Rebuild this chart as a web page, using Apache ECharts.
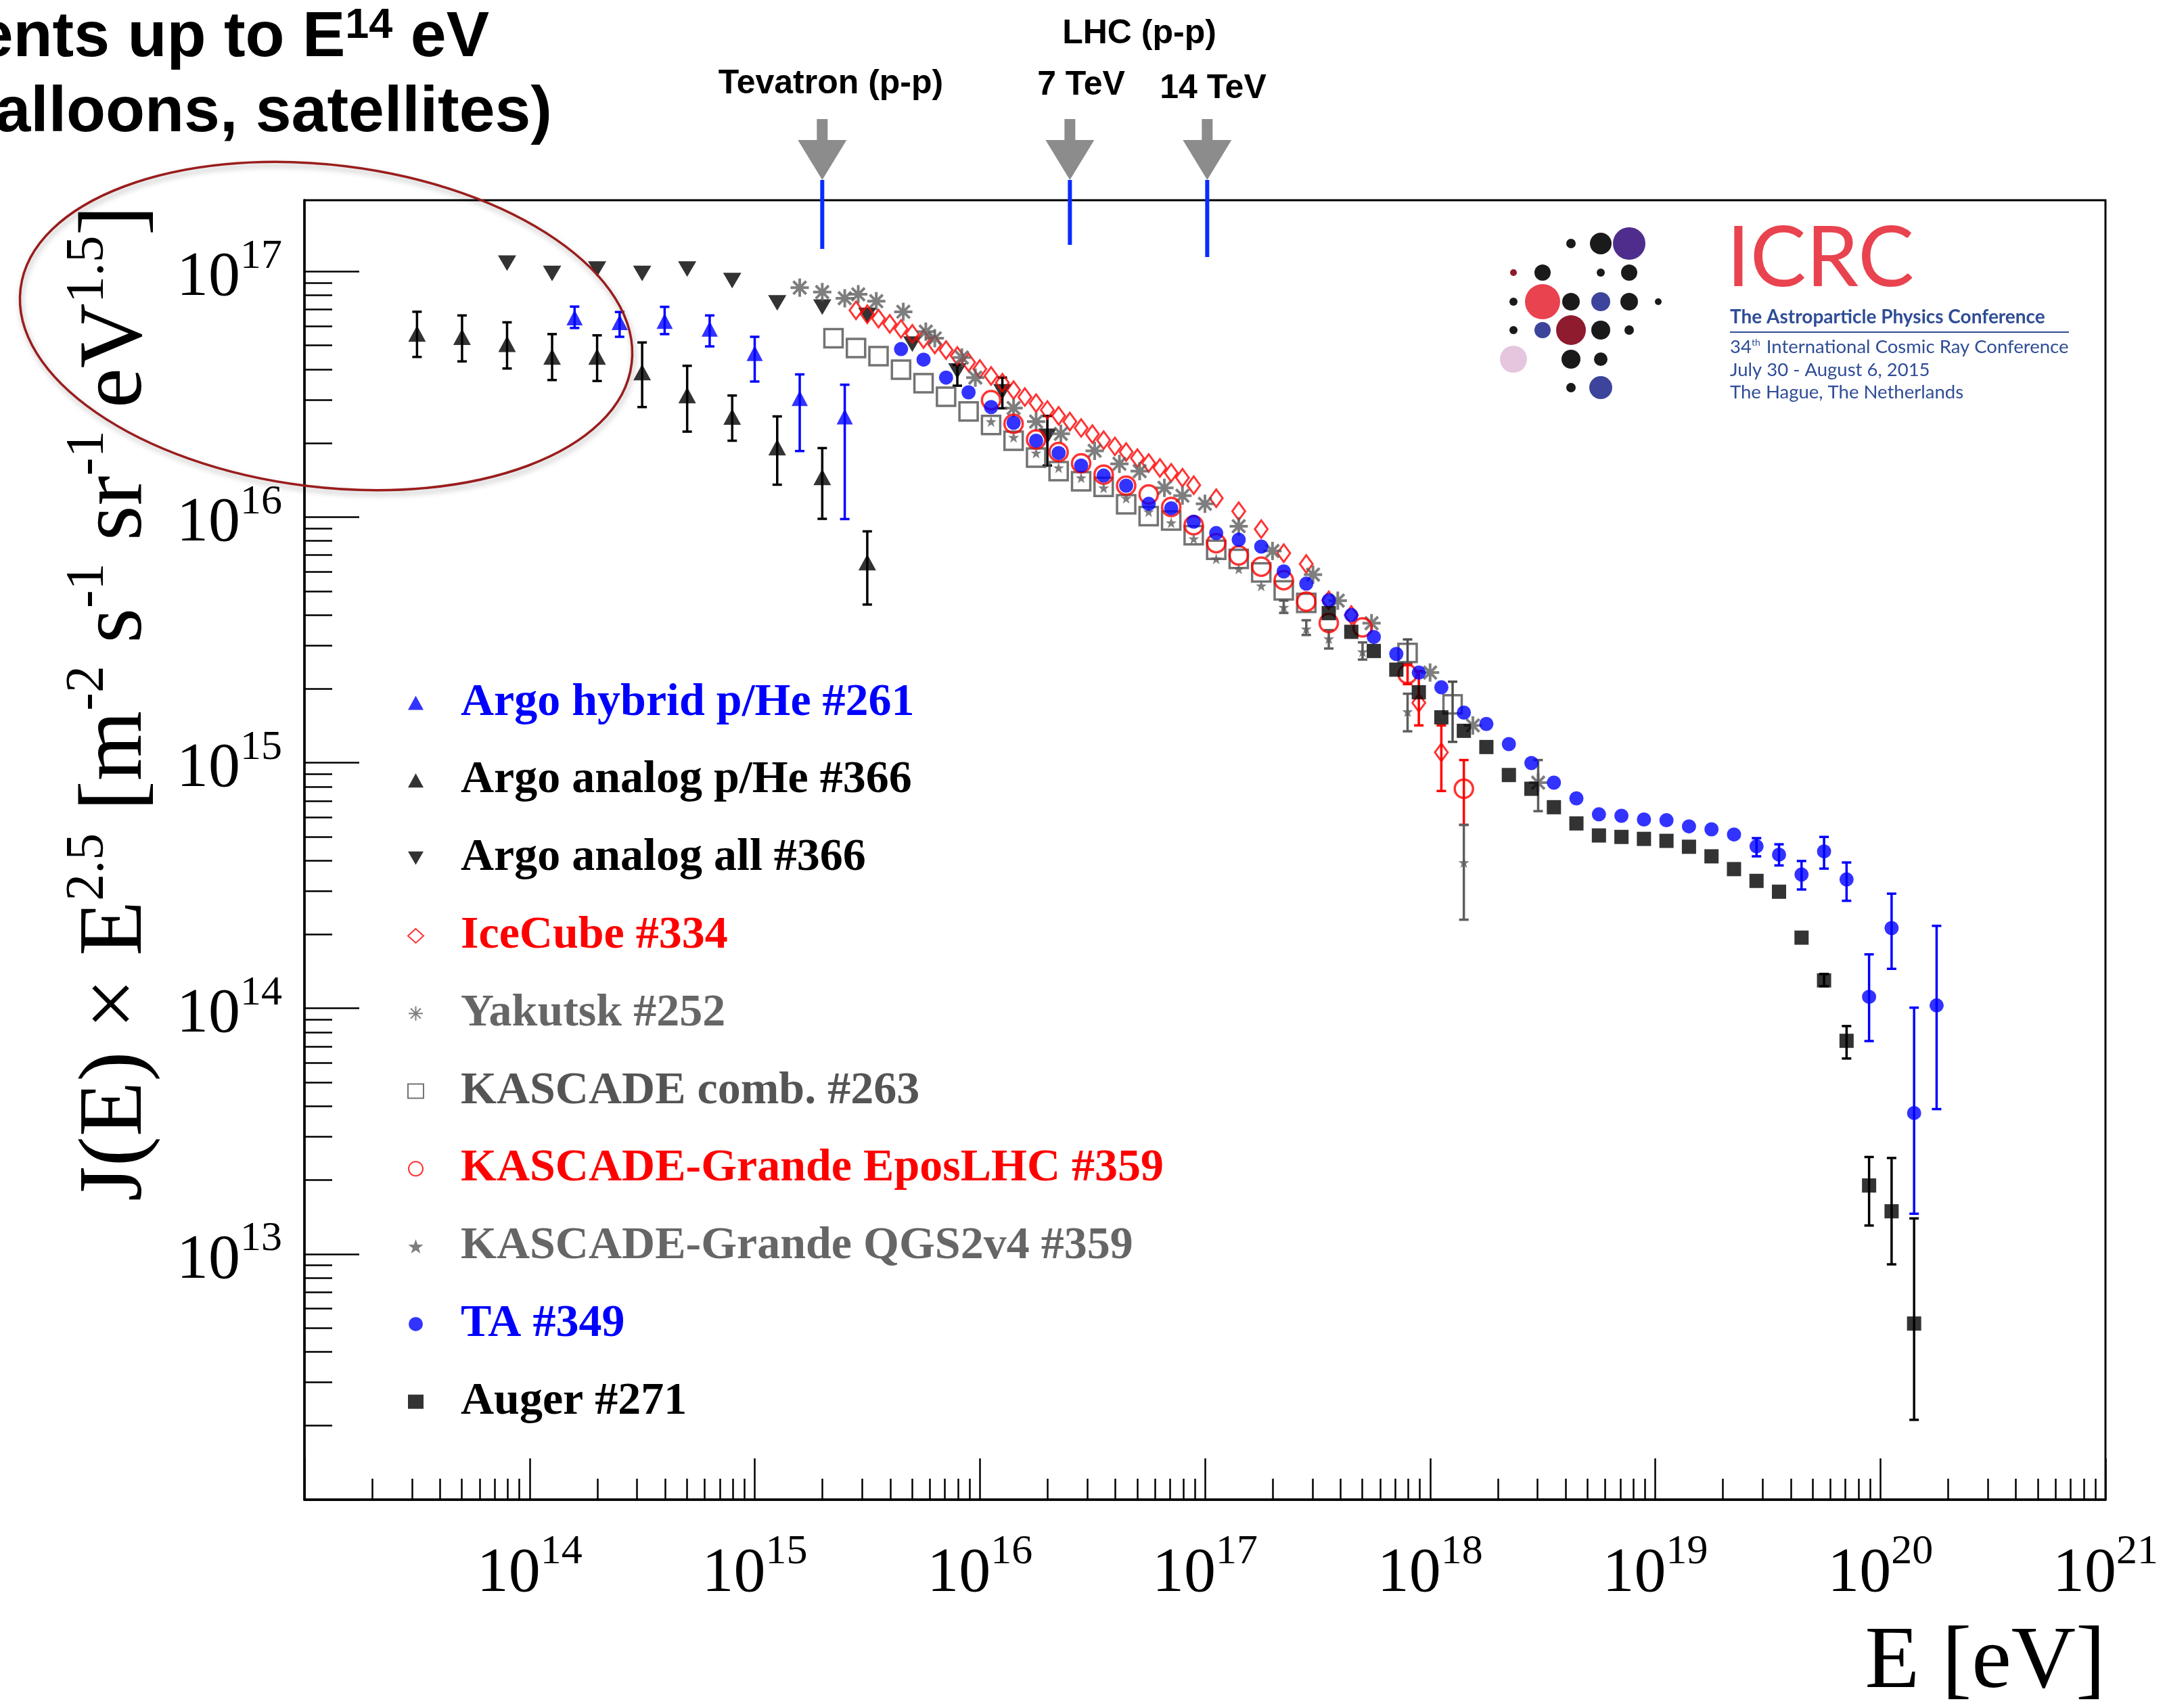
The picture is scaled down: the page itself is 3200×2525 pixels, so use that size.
<!DOCTYPE html>
<html><head><meta charset="utf-8">
<script src="https://cdn.jsdelivr.net/npm/echarts@6/dist/echarts.min.js"></script>
<style>html,body{margin:0;padding:0;background:#fff}#c{width:3200px;height:2525px}</style>
</head><body><div id="c"></div>
<script>
// All values are log10 of the quantity:
// x = log10(E / eV), y = log10(J(E) x E^2.5 [m^-2 s^-1 sr^-1 eV^1.5])

// Argo hybrid p/He #261
const argoHybridLogE = [14.2, 14.4, 14.6, 14.8, 15.0, 15.2, 15.4];
const argoHybridLogJ = [16.812, 16.793, 16.798, 16.766, 16.667, 16.484, 16.409];
const argoHybridLo   = [16.770, 16.734, 16.745, 16.695, 16.552, 16.269, 15.992];
const argoHybridHi   = [16.857, 16.835, 16.856, 16.821, 16.734, 16.581, 16.539];

// Argo analog p/He #366
const argoPHeLogE = [13.5, 13.7, 13.9, 14.1, 14.3, 14.5, 14.7, 14.9, 15.1, 15.3, 15.5];
const argoPHeLogJ = [16.747, 16.734, 16.705, 16.653, 16.653, 16.590, 16.496, 16.409, 16.284, 16.163, 15.816];
const argoPHeLo   = [16.652, 16.634, 16.605, 16.558, 16.554, 16.448, 16.348, 16.311, 16.132, 15.993, 15.644];
const argoPHeHi   = [16.836, 16.821, 16.793, 16.745, 16.740, 16.711, 16.616, 16.495, 16.410, 16.281, 15.942];

// Argo analog all #366
const argoAllLogE = [13.9, 14.1, 14.3, 14.5, 14.7, 14.9, 15.1, 15.3, 15.5, 15.7, 15.9, 16.1, 16.3];
const argoAllLogJ = [17.034, 16.992, 17.010, 16.992, 17.010, 16.963, 16.872, 16.855, 16.821, 16.704, 16.595, 16.510, 16.329];
const argoAllErrLogE = [15.9, 16.1, 16.3];
const argoAllErrLo   = [16.535, 16.443, 16.210];
const argoAllErrHi   = [16.620, 16.568, 16.412];

// IceCube #334
const iceCubeLogE = [15.45, 15.50, 15.55, 15.60, 15.65, 15.70, 15.75, 15.80, 15.85, 15.90, 15.95, 16.00, 16.05, 16.10,
  16.15, 16.20, 16.25, 16.30, 16.35, 16.40, 16.45, 16.50, 16.55, 16.60, 16.65, 16.70, 16.75, 16.80, 16.85, 16.90, 16.95,
  17.05, 17.15, 17.25, 17.35, 17.45, 17.55, 17.65, 17.95, 18.05];
const iceCubeLogJ = [16.842, 16.826, 16.808, 16.787, 16.766, 16.746, 16.725, 16.703, 16.680, 16.656, 16.630, 16.603, 16.575, 16.547,
  16.517, 16.489, 16.464, 16.436, 16.412, 16.389, 16.363, 16.338, 16.313, 16.288, 16.265, 16.240, 16.220, 16.200, 16.180, 16.160, 16.130,
  16.077, 16.024, 15.951, 15.853, 15.809, 15.661, 15.601, 15.244, 15.042];
const iceCubeErrLogE = [17.95, 18.05];
const iceCubeErrLo   = [15.152, 14.885];
const iceCubeErrHi   = [15.373, 15.152];

// Yakutsk #252
const yakutskLogE = [15.20, 15.30, 15.40, 15.46, 15.54, 15.66, 15.76, 15.80, 15.92, 15.98, 16.15, 16.25, 16.36, 16.51,
  16.62, 16.71, 16.82, 16.90, 17.00, 17.15, 17.30, 17.48, 17.59, 17.74, 18.00, 18.19, 18.48];
const yakutskLogJ = [16.934, 16.916, 16.891, 16.907, 16.879, 16.836, 16.755, 16.728, 16.650, 16.568, 16.444, 16.389, 16.339, 16.270,
  16.217, 16.187, 16.119, 16.087, 16.054, 15.963, 15.862, 15.766, 15.660, 15.568, 15.367, 15.152, 14.919];
const yakutskErrLogE = [18.48];
const yakutskErrLo   = [14.803];
const yakutskErrHi   = [15.011];

// KASCADE comb. #263
const kascadeLogE = [15.35, 15.45, 15.55, 15.65, 15.75, 15.85, 15.95, 16.05, 16.15, 16.25, 16.35, 16.45, 16.55, 16.65,
  16.75, 16.85, 16.95, 17.05, 17.15, 17.25, 17.35, 17.45, 17.90, 18.10];
const kascadeLogJ = [16.728, 16.688, 16.655, 16.600, 16.545, 16.490, 16.430, 16.375, 16.311, 16.242, 16.187, 16.146, 16.123, 16.052,
  16.004, 15.986, 15.926, 15.867, 15.830, 15.775, 15.702, 15.651, 15.447, 15.238];
const kascadeErrLogE = [17.90, 18.10];
const kascadeErrLo   = [15.404, 15.085];
const kascadeErrHi   = [15.502, 15.330];

// KASCADE-Grande EposLHC #359
const eposLogE = [16.05, 16.15, 16.25, 16.35, 16.45, 16.55, 16.65, 16.75, 16.85, 16.95, 17.05, 17.15, 17.25, 17.35,
  17.45, 17.55, 17.70, 17.90, 18.15];
const eposLogJ = [16.476, 16.380, 16.316, 16.265, 16.219, 16.173, 16.128, 16.092, 16.041, 15.967, 15.894, 15.844, 15.798, 15.743,
  15.656, 15.569, 15.551, 15.361, 14.894];
const eposErrLogE = [17.90, 18.15];
const eposErrLo   = [15.320, 14.747];
const eposErrHi   = [15.400, 15.011];

// KASCADE-Grande QGS2v4 #359
const qgsLogE = [16.05, 16.15, 16.25, 16.35, 16.45, 16.55, 16.65, 16.75, 16.85, 16.95, 17.05, 17.15, 17.25, 17.35,
  17.45, 17.55, 17.70, 17.90, 18.15];
const qgsLogJ = [16.389, 16.325, 16.261, 16.201, 16.160, 16.119, 16.077, 16.022, 15.977, 15.912, 15.830, 15.789, 15.720, 15.633,
  15.545, 15.505, 15.452, 15.208, 14.594];
const qgsErrLogE = [17.35, 17.45, 17.55, 17.70, 17.90, 18.15];
const qgsErrLo   = [15.610, 15.520, 15.465, 15.420, 15.128, 14.361];
const qgsErrHi   = [15.660, 15.580, 15.540, 15.490, 15.281, 14.747];

// TA #349
const taLogE = [15.65, 15.75, 15.85, 15.95, 16.05, 16.15, 16.25, 16.35, 16.45, 16.55, 16.65, 16.75, 16.85, 16.95,
  17.05, 17.15, 17.25, 17.35, 17.45, 17.55, 17.65, 17.75, 17.85, 17.95, 18.05, 18.15, 18.25, 18.35, 18.45, 18.55,
  18.65, 18.75, 18.85, 18.95, 19.05, 19.15, 19.25, 19.35, 19.45, 19.55, 19.65, 19.75, 19.85, 19.95, 20.05, 20.15, 20.25];
const taLogJ = [16.684, 16.641, 16.568, 16.508, 16.448, 16.384, 16.311, 16.261, 16.210, 16.169, 16.128, 16.054, 16.036, 15.981,
  15.935, 15.908, 15.880, 15.779, 15.729, 15.661, 15.601, 15.512, 15.443, 15.367, 15.307, 15.204, 15.158, 15.076, 14.999, 14.919,
  14.855, 14.790, 14.784, 14.769, 14.766, 14.741, 14.729, 14.708, 14.660, 14.626, 14.545, 14.639, 14.525, 14.047, 14.327, 13.574, 14.012];
const taErrLogE = [19.45, 19.55, 19.65, 19.75, 19.85, 19.95, 20.05, 20.15, 20.25];
const taErrLo   = [14.619, 14.582, 14.484, 14.569, 14.438, 13.867, 14.161, 13.164, 13.590];
const taErrHi   = [14.693, 14.668, 14.600, 14.698, 14.594, 14.220, 14.467, 14.003, 14.336];

// Auger #271
const augerLogE = [17.55, 17.65, 17.75, 17.85, 17.95, 18.05, 18.15, 18.25, 18.35, 18.45, 18.55, 18.65, 18.75, 18.85,
  18.95, 19.05, 19.15, 19.25, 19.35, 19.45, 19.55, 19.65, 19.75, 19.85, 19.95, 20.05, 20.15];
const augerLogJ = [15.609, 15.533, 15.455, 15.379, 15.287, 15.185, 15.130, 15.064, 14.950, 14.894, 14.819, 14.753, 14.704, 14.698,
  14.690, 14.682, 14.658, 14.619, 14.567, 14.519, 14.475, 14.288, 14.114, 13.868, 13.279, 13.174, 12.717];
const augerErrLogE = [19.75, 19.85, 19.95, 20.05, 20.15];
const augerErrLo   = [14.090, 13.796, 13.116, 12.958, 12.325];
const augerErrHi   = [14.140, 13.928, 13.395, 13.391, 13.145];

// Legend names
const seriesNames = ['Argo hybrid p/He #261', 'Argo analog p/He #366', 'Argo analog all #366', 'IceCube #334',
  'Yakutsk #252', 'KASCADE comb. #263', 'KASCADE-Grande EposLHC #359', 'KASCADE-Grande QGS2v4 #359', 'TA #349', 'Auger #271'];

// Tick labels (exponents of 10)
const xLabelExp = [14, 15, 16, 17, 18, 19, 20, 21];
const yLabelExp = [13, 14, 15, 16, 17];

// Accelerator equivalent energies (log10 E/eV)
const colliderLogE = [15.30, 16.40, 17.01];

const P = v => Math.pow(10, v);
const pts = (le, lj) => le.map((e, i) => [P(e), P(lj[i])]);
const errs = (le, lo, hi) => le.map((e, i) => [P(e), P(lo[i]), P(hi[i])]);

const xMajor = [], xMinor = [], yMajor = [], yMinor = [];
for (let n = 13; n <= 21; n++) { xMajor.push(n === 21 ? P(n) * 0.99999 : P(n)); if (n < 21) for (let k = 2; k <= 9; k++) xMinor.push(k * P(n)); }
for (let n = 12; n <= 17; n++) { yMajor.push(P(n)); for (let k = 2; k <= 9; k++) if (k * P(n) < 1.95e17) yMinor.push(k * P(n)); }
const xLabelVals = xLabelExp.map(e => e === 21 ? P(e) * 0.99999 : P(e));

const BLUE = '#0000ff', RED = '#ff0000', BLACK = '#000000', GRAY = '#5e5e5e', DGRAY = '#505050';
const CLEAR = 'rgba(0,0,0,0)';
const ASTER = 'path://M10,0L10,20M0,10L20,10M2.93,2.93L17.07,17.07M2.93,17.07L17.07,2.93';
const STAR = 'path://M10,0L12.35,6.76L19.51,6.91L13.8,11.24L15.88,18.09L10,14L4.12,18.09L6.2,11.24L0.49,6.91L7.65,6.76Z';
const DOWN_TRI = 'path://M0,0L20,0L10,17Z';

function errSeries(data, color, cap) {
  return {
    type: 'custom', data: data, encode: { x: 0, y: [1, 2] }, silent: true, z: 2,
    renderItem: function (params, api) {
      const x = api.value(0), lo = api.value(1), hi = api.value(2);
      const a = api.coord([x, lo]), b = api.coord([x, hi]);
      const h = cap / 2;
      const st = { stroke: color, lineWidth: 3.5 };
      return { type: 'group', children: [
        { type: 'line', shape: { x1: a[0], y1: a[1], x2: b[0], y2: b[1] }, style: st },
        { type: 'line', shape: { x1: a[0] - h, y1: a[1], x2: a[0] + h, y2: a[1] }, style: st },
        { type: 'line', shape: { x1: b[0] - h, y1: b[1], x2: b[0] + h, y2: b[1] }, style: st }
      ] };
    }
  };
}
function sc(name, data, symbol, size, itemStyle, extra) {
  return Object.assign({ type: 'scatter', name: name, data: data, symbol: symbol, symbolSize: size,
    itemStyle: itemStyle, z: 2, emphasis: { disabled: true } }, extra || {});
}

const supRich = {
  b: { fontFamily: 'Liberation Serif', fontSize: 94, color: '#000', padding: [20, 0, 0, 0] },
  s: { fontFamily: 'Liberation Serif', fontSize: 62, color: '#000', padding: [0, 0, 44, 0] }
};
const supFmt = v => '{b|10}{s|' + Math.round(Math.log10(v)) + '}';

const legendColors = [BLUE, BLACK, BLACK, RED, '#666666', '#555555', RED, '#666666', BLUE, BLACK];

const option = {
  animation: false,
  backgroundColor: '#ffffff',
  grid: { left: 450, right: 88, top: 296, bottom: 305, show: true, borderColor: '#000', borderWidth: 3 },
  xAxis: [
    { type: 'log', logBase: 10, min: 1e13, max: 1e21, position: 'bottom',
      axisLine: { show: true, onZero: false, lineStyle: { color: '#000', width: 3.5 } },
      axisTick: { show: true, inside: true, length: 61, lineStyle: { color: '#000', width: 2.5 }, customValues: xMajor },
      minorTick: { show: false },
      axisLabel: { show: true, margin: 43, showMaxLabel: true, hideOverlap: false, customValues: xLabelVals, formatter: supFmt, rich: supRich },
      splitLine: { show: false },
      name: 'E [eV]', nameLocation: 'end', nameGap: 0,
      nameTextStyle: { fontFamily: 'Liberation Serif', fontSize: 132, color: '#000', align: 'right', verticalAlign: 'top', padding: [176, 0, 0, 0] } },
    { type: 'log', logBase: 10, min: 1e13, max: 1e21, position: 'bottom',
      axisLine: { show: false, onZero: false },
      axisTick: { show: true, inside: true, length: 31, lineStyle: { color: '#000', width: 2.5 }, customValues: xMinor },
      axisLabel: { show: false }, splitLine: { show: false } }
  ],
  yAxis: [
    { type: 'log', logBase: 10, min: 1e12, max: 1.95e17, position: 'left',
      axisLine: { show: true, onZero: false, lineStyle: { color: '#000', width: 3.5 } },
      axisTick: { show: true, inside: true, length: 81, lineStyle: { color: '#000', width: 2.5 }, customValues: yMajor },
      minorTick: { show: false },
      axisLabel: { show: true, margin: 33, customValues: yLabelExp.map(P), formatter: supFmt, rich: supRich },
      splitLine: { show: false } },
    { type: 'log', logBase: 10, min: 1e12, max: 1.95e17, position: 'left',
      axisLine: { show: false, onZero: false },
      axisTick: { show: true, inside: true, length: 41, lineStyle: { color: '#000', width: 2.5 }, customValues: yMinor },
      axisLabel: { show: false }, splitLine: { show: false } }
  ],
  legend: {
    orient: 'vertical', left: 597, top: 994, itemWidth: 23, itemHeight: 21, itemGap: 34.8, selectedMode: false,
    textStyle: { fontFamily: 'Liberation Serif', fontWeight: 'bold', fontSize: 68, lineHeight: 80, padding: [0, 0, 0, 50] },
    data: seriesNames.map((n, i) => ({ name: n, textStyle: { color: legendColors[i] } }))
  },
  series: [
    errSeries(errs(argoHybridLogE, argoHybridLo, argoHybridHi), BLUE, 14),
    sc(seriesNames[0], pts(argoHybridLogE, argoHybridLogJ), 'triangle', [24, 23], { color: BLUE }),
    errSeries(errs(argoPHeLogE, argoPHeLo, argoPHeHi), BLACK, 14),
    sc(seriesNames[1], pts(argoPHeLogE, argoPHeLogJ), 'triangle', [26, 24], { color: BLACK }),
    errSeries(errs(argoAllErrLogE, argoAllErrLo, argoAllErrHi), BLACK, 14),
    sc(seriesNames[2], pts(argoAllLogE, argoAllLogJ), DOWN_TRI, [27, 23], { color: BLACK }),
    errSeries(errs(iceCubeErrLogE, iceCubeErrLo, iceCubeErrHi), RED, 14),
    sc(seriesNames[3], pts(iceCubeLogE, iceCubeLogJ), 'diamond', [19, 26], { color: CLEAR, borderColor: RED, borderWidth: 3 }),
    errSeries(errs(yakutskErrLogE, yakutskErrLo, yakutskErrHi), GRAY, 14),
    sc(seriesNames[4], pts(yakutskLogE, yakutskLogJ), ASTER, 27, { color: CLEAR, borderColor: GRAY, borderWidth: 4 }),
    errSeries(errs(kascadeErrLogE, kascadeErrLo, kascadeErrHi), DGRAY, 14),
    sc(seriesNames[5], pts(kascadeLogE, kascadeLogJ), 'rect', 27, { color: CLEAR, borderColor: DGRAY, borderWidth: 3.5 }),
    errSeries(errs(eposErrLogE, eposErrLo, eposErrHi), RED, 14),
    sc(seriesNames[6], pts(eposLogE, eposLogJ), 'circle', 27, { color: CLEAR, borderColor: RED, borderWidth: 3.5 }),
    errSeries(errs(qgsErrLogE, qgsErrLo, qgsErrHi), GRAY, 14),
    sc(seriesNames[7], pts(qgsLogE, qgsLogJ), STAR, 16, { color: GRAY }),
    errSeries(errs(taErrLogE, taErrLo, taErrHi), BLUE, 14),
    sc(seriesNames[8], pts(taLogE, taLogJ), 'circle', 21, { color: BLUE }),
    errSeries(errs(augerErrLogE, augerErrLo, augerErrHi), BLACK, 14),
    sc(seriesNames[9], pts(augerLogE, augerLogJ), 'rect', 21, { color: BLACK })
  ]
};

const chart = echarts.init(document.getElementById('c'), null, { renderer: 'canvas' });
chart.setOption(option);

// ---- annotations (positions of collider markers derived from the x scale) ----
const g = [];
const colliderLineEnd = [368, 362, 380];
colliderLogE.forEach((le, i) => {
  const X = chart.convertToPixel({ xAxisIndex: 0 }, P(le));
  g.push({ type: 'rect', z: 50, shape: { x: X - 8, y: 176, width: 16, height: 34 }, style: { fill: '#8c8c8c' } });
  g.push({ type: 'polygon', z: 50, shape: { points: [[X - 36, 207], [X + 36, 207], [X, 266]] }, style: { fill: '#8c8c8c' } });
  g.push({ type: 'line', z: 50, shape: { x1: X, y1: 266, x2: X, y2: colliderLineEnd[i] }, style: { stroke: '#0a2cff', lineWidth: 6 } });
});
const annFont = { fontFamily: 'Liberation Sans', fontWeight: 'bold', fontSize: 50, fill: '#000', align: 'center', verticalAlign: 'middle' };
g.push({ type: 'text', z: 50, x: 1228, y: 124, style: Object.assign({ text: 'Tevatron (p-p)' }, annFont) });
g.push({ type: 'text', z: 50, x: 1684, y: 50, style: Object.assign({ text: 'LHC (p-p)' }, annFont) });
g.push({ type: 'text', z: 50, x: 1598, y: 126, style: Object.assign({ text: '7 TeV' }, annFont) });
g.push({ type: 'text', z: 50, x: 1793, y: 131, style: Object.assign({ text: '14 TeV' }, annFont) });

// top-left heading (cut off at the left edge)
g.push({ type: 'text', z: 50, x: 723, y: 57, style: {
  text: 'ents up to E{s|14} eV', fontFamily: 'Liberation Sans', fontWeight: 'bold', fontSize: 95, fill: '#000',
  align: 'right', verticalAlign: 'middle',
  rich: { s: { fontFamily: 'Liberation Sans', fontWeight: 'bold', fontSize: 63, fill: '#000', padding: [0, 0, 36, 0] } } } });
g.push({ type: 'text', z: 50, x: 816, y: 168, style: {
  text: 'alloons, satellites)', fontFamily: 'Liberation Sans', fontWeight: 'bold', fontSize: 95, fill: '#000',
  align: 'right', verticalAlign: 'middle' } });

// y axis title
g.push({ type: 'text', z: 50, x: 173, y: 1040, rotation: Math.PI / 2, style: {
  text: '{m|J(E) × E}{s|2.5}{m| [m}{s|-2}{m| s}{s|-1}{m| sr}{s|-1}{m| eV}{s|1.5}{m|]}',
  align: 'center', verticalAlign: 'middle', fill: '#000',
  rich: { m: { fontFamily: 'Liberation Serif', fontSize: 133, fill: '#000' },
          s: { fontFamily: 'Liberation Serif', fontSize: 80, fill: '#000', padding: [0, 0, 85, 0] } } } });

// ellipse
g.push({ type: 'ellipse', z: 60, x: 482, y: 482, rotation: -7 * Math.PI / 180,
  shape: { cx: 0, cy: 0, rx: 455, ry: 238 },
  style: { fill: 'none', stroke: '#9a1c1c', lineWidth: 3.5, shadowBlur: 8, shadowColor: 'rgba(0,0,0,0.3)', shadowOffsetX: 2, shadowOffsetY: 5 } });

// ICRC logo
const dots = [
  [2322, 360, 7, '#1a1a1a'], [2366, 360, 16, '#1a1a1a'], [2408, 360, 24, '#4f2d8c'],
  [2237, 403, 5, '#8e1b2e'], [2280, 403, 12, '#1a1a1a'], [2366, 403, 6, '#1a1a1a'], [2408, 403, 12, '#1a1a1a'],
  [2237, 446, 6, '#1a1a1a'], [2280, 446, 26, '#e8434f'], [2322, 446, 13, '#1a1a1a'], [2366, 446, 14, '#3d449b'],
  [2408, 446, 13, '#1a1a1a'], [2451, 446, 5, '#1a1a1a'],
  [2237, 488, 6, '#1a1a1a'], [2280, 488, 12, '#3d449b'], [2322, 488, 22, '#8e1b2e'], [2366, 488, 14, '#1a1a1a'], [2408, 488, 7, '#1a1a1a'],
  [2237, 531, 20, '#e5c6df'], [2322, 531, 14, '#1a1a1a'], [2366, 531, 10, '#1a1a1a'],
  [2322, 573, 7, '#1a1a1a'], [2366, 573, 17, '#3d449b']
];
dots.forEach(d => g.push({ type: 'circle', z: 40, shape: { cx: d[0], cy: d[1], r: d[2] }, style: { fill: d[3] } }));
const LOGO_BLUE = '#2f4d96';
g.push({ type: 'text', z: 40, x: 2552, y: 383, style: { text: 'ICRC', fontFamily: 'Lato', fontSize: 124, fill: '#e8434f', align: 'left', verticalAlign: 'middle' } });
g.push({ type: 'text', z: 40, x: 2557, y: 469, style: { text: 'The Astroparticle Physics Conference', fontFamily: 'Lato', fontWeight: 'bold', fontSize: 28, fill: LOGO_BLUE, align: 'left', verticalAlign: 'middle' } });
g.push({ type: 'line', z: 40, shape: { x1: 2557, y1: 491, x2: 3058, y2: 491 }, style: { stroke: LOGO_BLUE, lineWidth: 2 } });
g.push({ type: 'text', z: 40, x: 2557, y: 513, style: { text: '34{t|th} International Cosmic Ray Conference', fontFamily: 'Lato', fontSize: 27.5, fill: LOGO_BLUE, align: 'left', verticalAlign: 'middle',
  rich: { t: { fontFamily: 'Lato', fontSize: 14, fill: LOGO_BLUE, padding: [0, 2, 14, 0] } } } });
g.push({ type: 'text', z: 40, x: 2557, y: 547, style: { text: 'July 30 - August 6, 2015', fontFamily: 'Lato', fontSize: 27.5, fill: LOGO_BLUE, align: 'left', verticalAlign: 'middle' } });
g.push({ type: 'text', z: 40, x: 2557, y: 580, style: { text: 'The Hague, The Netherlands', fontFamily: 'Lato', fontSize: 27.5, fill: LOGO_BLUE, align: 'left', verticalAlign: 'middle' } });

chart.setOption({ graphic: { elements: g } });
</script>
</body></html>
